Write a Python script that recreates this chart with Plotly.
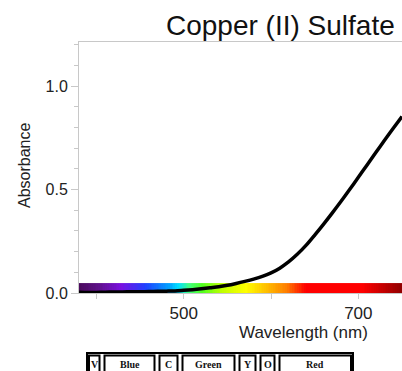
import plotly.graph_objects as go

# ---- data ----
wavelength = [380, 390, 400, 410, 420, 430, 440, 450, 460, 470, 480, 490, 500,
              510, 520, 530, 540, 550, 560, 570, 580, 590, 600, 610, 620, 630,
              640, 650, 660, 670, 680, 690, 700, 710, 720, 730, 740, 750]
absorbance = [0.004, 0.003, 0.003, 0.004, 0.005, 0.005, 0.006, 0.006, 0.007, 0.008,
              0.009, 0.010, 0.013, 0.016, 0.020, 0.025, 0.030, 0.037, 0.046, 0.056,
              0.067, 0.080, 0.097, 0.120, 0.150, 0.187, 0.230, 0.280, 0.332, 0.386,
              0.442, 0.500, 0.559, 0.619, 0.679, 0.738, 0.796, 0.853]

band_labels = ["V", "Blue", "C", "Green", "Y", "O", "Red"]
band_edges_px = [87, 102, 157, 180, 237, 258, 277, 353]

spectrum_stops = [(380, "#4a0a5c"), (402, "#5e1088"), (428, "#7a10e0"), (456, "#2040ff"),
                  (483, "#00a0ff"), (494, "#00e0ff"), (506, "#40ff80"), (521, "#50ff20"),
                  (544, "#c0ff00"), (571, "#ffff00"), (594, "#ffc000"), (617, "#ff8000"),
                  (640, "#ff0000"), (704, "#ff0000"), (750, "#900000")]

X_MIN, X_MAX = 380, 750
BAR_H = 0.048

# ---- figure ----
fig = go.Figure()

edges = list(range(X_MIN, X_MAX + 1, 2))
centers = [(edges[i] + edges[i + 1]) / 2 for i in range(len(edges) - 1)]
cscale = [[(w - X_MIN) / (X_MAX - X_MIN), c] for w, c in spectrum_stops]
fig.add_trace(go.Heatmap(x=edges, y=[0, BAR_H], z=[centers], colorscale=cscale,
                         zmin=X_MIN, zmax=X_MAX, showscale=False, hoverinfo="skip"))

fig.add_trace(go.Scatter(x=wavelength, y=absorbance, mode="lines",
                         line=dict(color="black", width=3.5, shape="spline", smoothing=0.8),
                         showlegend=False))

W, H = 402, 371
L, R, T, B = 79, 0, 42, 78
pw, ph = W - L - R, H - T - B


def px(xp):
    return (xp - L) / pw


def py(yp):
    return (H - B - yp) / ph


axis_col = "#c8c8c8"
fig.update_layout(
    width=W, height=H, margin=dict(l=L, r=R, t=T, b=B),
    plot_bgcolor="white", paper_bgcolor="white",
    font=dict(family="Liberation Sans, Arial", color="#222"),
    showlegend=False,
    xaxis=dict(range=[X_MIN, X_MAX], showgrid=False, zeroline=False,
               showline=True, linecolor=axis_col, mirror=True,
               ticks="outside", ticklen=5, tickcolor=axis_col, tick0=500, dtick=200,
               minor=dict(ticks="outside", ticklen=5, tickcolor=axis_col, dtick=100, showgrid=False),
               tickfont=dict(size=17, color="#222")),
    yaxis=dict(range=[0, 1.213], showgrid=False, zeroline=False,
               showline=True, linecolor=axis_col,
               ticks="outside", ticklen=7, tickcolor=axis_col, tick0=0, dtick=0.5,
               tickformat=".1f",
               minor=dict(ticks="outside", ticklen=4, tickcolor=axis_col, dtick=0.1, showgrid=False),
               tickfont=dict(size=16, color="#222")),
)

annotations = [
    dict(text="Copper (II) Sulfate", x=px(397), y=py(25), xref="paper", yref="paper",
         xanchor="right", yanchor="middle", showarrow=False,
         font=dict(size=28, color="#111")),
    dict(text="Wavelength (nm)", x=px(370), y=py(332), xref="paper", yref="paper",
         xanchor="right", yanchor="middle", showarrow=False,
         font=dict(size=17, color="#222")),
    dict(text="Absorbance", x=px(24), y=py(166), xref="paper", yref="paper",
         xanchor="center", yanchor="middle", showarrow=False, textangle=-90,
         font=dict(size=16, color="#222")),
]

shapes = []
top_px, bot_px = 353, 382
shapes.append(dict(type="rect", xref="paper", yref="paper",
                   x0=px(band_edges_px[0]), x1=px(band_edges_px[-1]),
                   y0=py(top_px), y1=py(bot_px), line=dict(color="black", width=2)))
for i, lab in enumerate(band_labels):
    a, b = band_edges_px[i], band_edges_px[i + 1]
    ia = a + (2.5 if i > 0 else 2)
    ib = b - (2.5 if i < len(band_labels) - 1 else 2)
    shapes.append(dict(type="rect", xref="paper", yref="paper",
                       x0=px(ia), x1=px(ib), y0=py(top_px + 2.5), y1=py(bot_px),
                       line=dict(color="black", width=2)))
    annotations.append(dict(text="<b>%s</b>" % lab, x=px((a + b) / 2), y=py(364),
                            xref="paper", yref="paper", xanchor="center", yanchor="middle",
                            showarrow=False,
                            font=dict(family="Liberation Serif, Times New Roman", size=10,
                                      color="#111")))

fig.update_layout(annotations=annotations, shapes=shapes)
fig.write_html("out.html", config={"displayModeBar": False},
               post_script="document.body.style.margin='0';document.body.style.overflow='hidden';")
